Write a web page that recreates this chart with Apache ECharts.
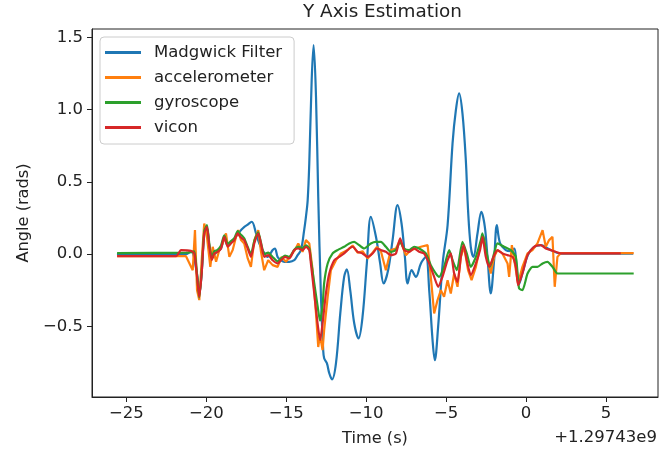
<!DOCTYPE html>
<html>
<head>
<meta charset="utf-8">
<script src="https://cdn.jsdelivr.net/npm/echarts@6/dist/echarts.min.js"></script>
<style>html,body{margin:0;padding:0;background:#fff}#c{width:669px;height:456px}</style>
</head>
<body>
<div id="c"></div>
<script>
// Time values are seconds relative to +1.29743e9
const seriesNames = ['Madgwick Filter', 'accelerometer', 'gyroscope', 'vicon'];
const xTicks = [-25, -20, -15, -10, -5, 0, 5];
const yTicks = [-0.5, 0.0, 0.5, 1.0, 1.5];

const madgwickT = [-25.59,-21.27,-20.96,-20.58,-20.44,-20.29,-20.13,-19.96,-19.81,-19.66,-19.40,-19.08,-18.88,-18.66,-18.46,-18.25,-18.04,-17.83,-17.62,-17.46,-17.16,-16.89,-16.69,-16.48,-16.16,-15.85,-15.71,-15.54,-15.33,-15.12,-14.81,-14.50,-14.29,-14.08,-13.88,-13.77,-13.66,-13.56,-13.41,-13.29,-13.14,-13.00,-12.83,-12.69,-12.63,-12.46,-12.31,-12.14,-11.89,-11.62,-11.38,-11.21,-11.00,-10.75,-10.48,-10.23,-9.96,-9.71,-9.39,-9.13,-8.91,-8.63,-8.35,-8.04,-7.79,-7.58,-7.41,-7.16,-6.89,-6.58,-6.27,-6.06,-5.85,-5.71,-5.50,-5.21,-4.91,-4.60,-4.39,-4.19,-3.98,-3.77,-3.63,-3.46,-3.29,-3.04,-2.80,-2.58,-2.41,-2.21,-2.00,-1.83,-1.63,-1.27,-0.96,-0.75,-0.58,-0.46,-0.21,0.11,0.48,0.92,1.54,2.17,6.70];
const madgwickY = [0.00,0.00,0.02,-0.14,-0.28,-0.13,0.13,0.18,0.05,-0.03,0.01,0.04,0.11,0.06,0.08,0.10,0.14,0.166,0.189,0.20,0.224,0.143,0.074,0.028,-0.019,0.028,0.039,-0.019,-0.042,-0.053,-0.053,-0.042,-0.007,0.028,0.166,0.258,0.374,0.630,1.204,1.446,1.089,0.397,-0.295,-0.664,-0.720,-0.754,-0.824,-0.867,-0.754,-0.408,-0.157,-0.106,-0.249,-0.478,-0.583,-0.434,-0.062,0.258,0.120,-0.062,-0.203,-0.111,0.097,0.339,0.212,-0.019,-0.203,-0.111,-0.157,-0.064,-0.019,-0.249,-0.595,-0.734,-0.50,-0.055,0.20,0.766,0.997,1.112,0.974,0.651,0.304,0.051,-0.019,0.143,0.293,0.189,-0.028,-0.272,-0.042,0.20,0.076,0.028,0.021,0.039,-0.11,-0.21,-0.125,-0.007,0.048,0.062,0.028,0.003,0.003];

const accelT = [-25.58,-21.27,-21.16,-20.85,-20.71,-20.58,-20.44,-20.29,-20.13,-19.96,-19.75,-19.60,-19.39,-19.19,-18.98,-18.77,-18.56,-18.35,-18.14,-18.00,-17.83,-17.63,-17.41,-17.21,-17.00,-16.75,-16.58,-16.38,-16.13,-15.85,-15.54,-15.29,-15.02,-14.71,-14.46,-14.25,-13.98,-13.77,-13.56,-13.35,-13.14,-13.00,-12.89,-12.73,-12.63,-12.41,-12.21,-11.89,-11.58,-11.16,-10.85,-10.54,-10.23,-9.91,-9.60,-9.33,-9.08,-8.77,-8.46,-8.14,-7.88,-7.52,-7.21,-6.58,-6.16,-5.96,-5.75,-5.54,-5.33,-5.13,-4.91,-4.71,-4.50,-4.29,-4.08,-3.88,-3.63,-3.41,-3.14,-2.88,-2.66,-2.46,-2.21,-2.00,-1.79,-1.48,-1.16,-1.06,-0.89,-0.64,-0.50,-0.23,0.09,0.40,0.71,1.03,1.23,1.44,1.65,1.79,1.96,2.17,6.73];
const accelY = [-0.014,-0.014,-0.019,-0.111,0.166,-0.249,-0.318,-0.042,0.212,0.120,-0.088,0.051,-0.053,0.028,0.074,0.143,-0.019,0.028,0.120,0.166,0.097,0.074,-0.030,-0.088,0.097,0.166,0.016,-0.111,-0.042,-0.076,-0.088,-0.019,-0.053,-0.007,0.028,0.074,0.016,0.097,0.074,-0.111,-0.410,-0.642,-0.56,-0.664,-0.526,-0.295,-0.111,-0.042,0.005,0.028,0.06,0.01,0.02,-0.03,0.01,0.05,0.02,-0.111,0.028,0.039,0.097,-0.007,0.028,0.051,0.062,-0.157,-0.410,-0.318,-0.249,-0.295,-0.180,-0.272,-0.134,-0.226,-0.019,0.051,-0.111,-0.180,-0.088,0.051,0.120,-0.019,-0.134,-0.019,0.028,0.005,-0.064,-0.157,0.062,-0.111,-0.203,-0.088,0.005,0.028,0.074,0.166,0.051,0.097,0.120,-0.226,-0.019,0.007,0.007];

const gyroT = [-25.58,-21.27,-20.96,-20.75,-20.58,-20.44,-20.29,-20.13,-19.96,-19.81,-19.66,-19.50,-19.29,-19.08,-18.88,-18.66,-18.46,-18.25,-18.04,-17.88,-17.63,-17.41,-17.21,-17.00,-16.75,-16.58,-16.38,-16.13,-15.85,-15.54,-15.33,-15.08,-14.81,-14.50,-14.25,-13.98,-13.77,-13.56,-13.46,-13.25,-13.04,-12.89,-12.73,-12.63,-12.41,-12.10,-11.79,-11.38,-11.06,-10.75,-10.44,-10.13,-9.71,-9.39,-9.08,-8.77,-8.46,-8.14,-7.88,-7.63,-7.31,-7.00,-6.69,-6.27,-5.96,-5.64,-5.44,-5.13,-4.81,-4.60,-4.33,-3.98,-3.71,-3.46,-3.14,-2.83,-2.73,-2.46,-2.25,-2.00,-1.79,-1.38,-0.96,-0.64,-0.44,-0.23,0.09,0.40,0.71,1.03,1.34,1.65,1.96,2.17,6.73];
const gyroY = [0.007,0.010,0.014,0.02,-0.14,-0.30,-0.12,0.16,0.20,0.07,-0.02,0.02,0.03,0.06,0.13,0.07,0.09,0.11,0.16,0.14,0.11,0.05,0.00,0.09,0.15,0.08,0.00,0.01,-0.02,-0.05,-0.03,-0.01,-0.02,0.03,0.05,0.04,0.06,0.04,-0.04,-0.20,-0.36,-0.46,-0.36,-0.20,-0.065,0.005,0.028,0.051,0.074,0.085,0.062,0.039,0.074,0.085,0.085,0.051,0.016,0.028,0.085,0.039,0.028,0.051,0.039,0.005,-0.076,-0.134,-0.157,-0.088,0.028,-0.042,-0.111,0.085,0.005,-0.088,-0.019,0.097,0.143,0.005,-0.088,0.005,0.074,0.051,0.028,-0.019,-0.237,-0.249,-0.134,-0.088,-0.088,-0.064,-0.053,-0.088,-0.134,-0.134,-0.134];

const viconT = [-25.58,-21.89,-21.58,-20.96,-20.75,-20.58,-20.44,-20.29,-20.13,-19.96,-19.81,-19.66,-19.50,-19.29,-19.08,-18.88,-18.66,-18.46,-18.25,-18.04,-17.88,-17.63,-17.41,-17.21,-17.00,-16.75,-16.58,-16.38,-16.13,-15.85,-15.54,-15.33,-15.08,-14.81,-14.50,-14.25,-13.98,-13.77,-13.56,-13.46,-13.25,-13.04,-12.88,-12.73,-12.52,-12.31,-12.00,-11.69,-11.38,-11.06,-10.85,-10.54,-10.23,-9.91,-9.60,-9.33,-9.08,-8.77,-8.46,-8.14,-7.88,-7.63,-7.31,-7.00,-6.69,-6.38,-6.06,-5.75,-5.50,-5.23,-4.91,-4.71,-4.50,-4.29,-4.08,-3.91,-3.71,-3.46,-3.14,-2.88,-2.73,-2.52,-2.31,-2.04,-1.79,-1.48,-1.16,-0.85,-0.64,-0.50,-0.23,0.09,0.50,0.92,1.23,1.54,1.86,2.17,5.92];
const viconY = [-0.014,-0.014,0.028,0.023,0.005,-0.157,-0.296,-0.134,0.143,0.189,0.051,-0.042,0.005,0.016,0.039,0.120,0.051,0.074,0.097,0.143,0.120,0.097,0.039,-0.019,0.074,0.143,0.074,-0.019,-0.007,-0.042,-0.064,-0.042,-0.019,-0.030,0.028,0.039,0.028,0.051,0.028,-0.064,-0.272,-0.480,-0.595,-0.480,-0.272,-0.134,-0.042,-0.019,0.005,0.039,0.051,0.016,0.005,-0.019,0.005,0.039,0.028,0.016,-0.007,0.005,0.109,0.028,0.016,0.039,0.016,0.005,-0.064,-0.157,-0.226,-0.157,-0.042,0.005,-0.134,-0.192,-0.019,0.062,-0.042,-0.145,-0.064,0.028,0.120,-0.019,-0.088,-0.019,0.028,0.005,-0.007,-0.019,-0.088,-0.215,-0.134,-0.007,0.051,0.062,0.039,0.028,0.016,0.005,0.005];

const colors = ['#1f77b4', '#ff7f0e', '#2ca02c', '#d62728'];
const smoothness = [0.35, 0, 0.2, 0.2];
const allT = [madgwickT, accelT, gyroT, viconT];
const allY = [madgwickY, accelY, gyroY, viconY];

const FONT = 'DejaVu Sans';
const INK = '#222';
const FS = 16.5;
const minus = s => s.replace('-', '\u2212');

const chart = echarts.init(document.getElementById('c'), null, {renderer: 'canvas'});
chart.setOption({
  animation: false,
  backgroundColor: '#fff',
  color: colors,
  title: {
    text: 'Y Axis Estimation',
    left: 303, top: 3, padding: 0,
    textStyle: {fontFamily: FONT, fontSize: 18.4, fontWeight: 'normal', color: INK}
  },
  grid: {left: 92, right: 11, top: 29, bottom: 59, show: true, borderColor: INK, borderWidth: 1, backgroundColor: 'transparent'},
  legend: {
    orient: 'vertical', left: 100, top: 37,
    padding: [7, 12, 8, 5], itemGap: 8,
    itemWidth: 36, itemHeight: 3, icon: 'rect',
    backgroundColor: 'rgba(255,255,255,0.8)', borderColor: '#ccc', borderWidth: 1, borderRadius: 4,
    textStyle: {fontFamily: FONT, fontSize: FS, color: INK, lineHeight: 17, padding: [0, 0, 0, 8]},
    data: seriesNames
  },
  xAxis: {
    type: 'value', min: -27.15, max: 8.25,
    name: 'Time (s)', nameLocation: 'middle', nameGap: 34,
    nameTextStyle: {fontFamily: FONT, fontSize: 16.2, color: INK},
    axisLine: {show: true, onZero: false, lineStyle: {color: INK, width: 1}},
    axisTick: {show: true, length: 5, lineStyle: {color: INK}, customValues: xTicks},
    axisLabel: {fontFamily: FONT, fontSize: FS, color: INK, margin: 8, customValues: xTicks, formatter: v => minus(String(v))},
    splitLine: {show: false}
  },
  yAxis: {
    type: 'value', min: -0.988, max: 1.557,
    name: 'Angle (rads)', nameLocation: 'middle', nameGap: 60, nameRotate: 90,
    nameTextStyle: {fontFamily: FONT, fontSize: 16.2, color: INK},
    axisLine: {show: true, onZero: false, lineStyle: {color: INK, width: 1}},
    axisTick: {show: true, length: 5, lineStyle: {color: INK}, customValues: yTicks},
    axisLabel: {fontFamily: FONT, fontSize: FS, color: INK, margin: 9, customValues: yTicks, formatter: v => minus(v.toFixed(1))},
    splitLine: {show: false}
  },
  graphic: [{
    type: 'text', right: 12, top: 429,
    style: {text: '+1.29743e9', font: '16.5px "DejaVu Sans"', fill: INK}
  }],
  series: seriesNames.map((n, i) => ({
    name: n, type: 'line', showSymbol: false, symbol: 'none',
    smooth: smoothness[i] || false,
    data: allT[i].map((t, k) => [t, allY[i][k]]),
    lineStyle: {width: 2.2, color: colors[i]},
    itemStyle: {color: colors[i]},
    z: 2 + i
  }))
});
</script>
</body>
</html>
